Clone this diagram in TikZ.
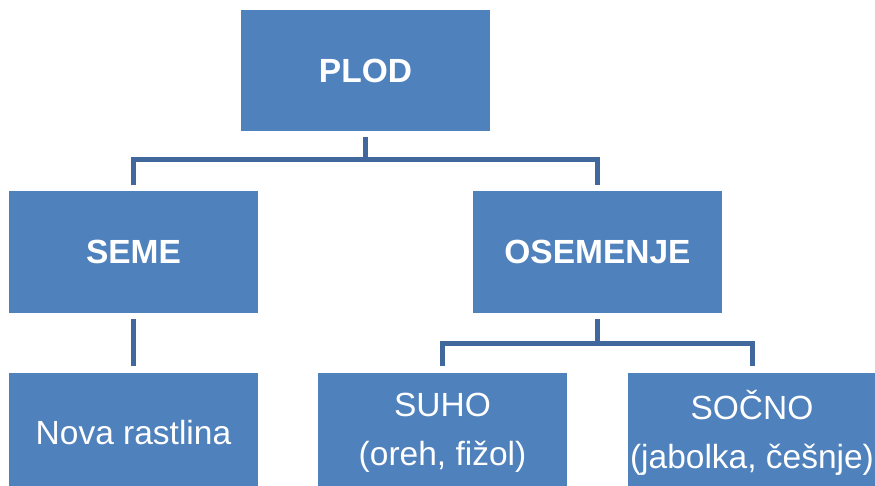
\documentclass[tikz,border=0pt]{standalone}
\usepackage{fontspec}
\setmainfont{Liberation Sans}
\usetikzlibrary{positioning}
\definecolor{boxblue}{RGB}{79,129,189}
\definecolor{lineblue}{RGB}{64,104,156}
\begin{document}
\begin{tikzpicture}[x=1pt,y=-1pt,line join=miter,line cap=butt]
	\tikzset{box/.style={fill=boxblue,text=white,minimum width=249pt,minimum height=121pt,inner sep=0pt,align=center,font=\fontsize{33.5}{49}\selectfont},
		hbox/.style={box,font=\fontsize{33.5}{49}\selectfont\bfseries},
		conn/.style={draw=lineblue,line width=5pt}}
	\useasboundingbox (0,0) rectangle (875,486);
	\clip (0,0) rectangle (875,486);
	\begin{scope}
		\node[hbox] (plod) at (365.5,70.5) {PLOD};
		\node[hbox] (seme) at (133.5,252) {SEME};
		\node[hbox] (osemenje) at (597.5,252) {OSEMENJE};
		\node[box] (rastlina) at (133.5,433) {Nova rastlina};
		\node[box] (suho) at (442.5,433) {SUHO\\(oreh, fižol)};
		\node[box] (socno) at (752,433) {SOČNO\\(jabolka, češnje)};
		\coordinate (split1) at (plod.south |- 0,160);
		\coordinate (split2) at (osemenje.south |- 0,343);
		\draw[conn] ([yshift=-6pt]plod.south) -- (split1);
		\draw[conn] ([yshift=6pt]seme.north) |- (split1) -| ([yshift=6pt]osemenje.north);
		\draw[conn] ([yshift=-6pt]seme.south) -- ([yshift=6pt]rastlina.north);
		\draw[conn] ([yshift=-6pt]osemenje.south) -- (split2);
		\draw[conn] ([yshift=6pt]suho.north) |- (split2) -| ([yshift=6pt]socno.north);
	\end{scope}
\end{tikzpicture}
\end{document}
